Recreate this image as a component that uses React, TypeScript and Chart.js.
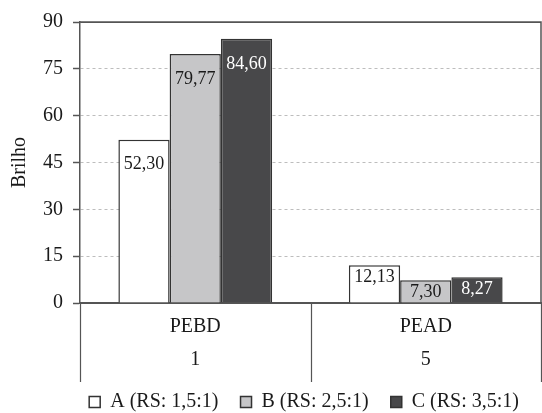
import React, { useEffect, useRef } from "react";
import { Chart, registerables } from "chart.js";

Chart.register(...registerables);

const categories: string[][] = [["PEBD", "1"], ["PEAD", "5"]];
const seriesNames = ["A (RS: 1,5:1)", "B (RS: 2,5:1)", "C (RS: 3,5:1)"];
const seriesA = [52.3, 12.13];
const seriesB = [79.77, 7.3];
const seriesC = [84.6, 8.27];
const yTicks = { min: 0, max: 90, step: 15 };

const FONT = "'Liberation Serif', 'Times New Roman', serif";
const TEXT = "#1a1a1a";
const LINE = "#555555";
const SEPARATOR_LENGTH = 79;
const X_AXIS_HEIGHT = 67;

const frameAndLabels = {
  id: "frameAndLabels",
  afterDraw(chart: any) {
    const { ctx, chartArea } = chart;
    const xs = chart.scales.x;
    ctx.save();
    ctx.strokeStyle = LINE;
    ctx.lineWidth = 1.5;
    // top and right border of plot area
    ctx.beginPath();
    ctx.moveTo(chartArea.left, chartArea.top);
    ctx.lineTo(chartArea.right, chartArea.top);
    ctx.lineTo(chartArea.right, chartArea.bottom);
    ctx.stroke();
    // category separators below the axis
    const n = xs.ticks.length;
    const w = (xs.right - xs.left) / n;
    ctx.lineWidth = 1.2;
    ctx.beginPath();
    for (let i = 0; i <= n; i++) {
      const x = Math.round(xs.left + i * w) + 0.5;
      ctx.moveTo(x, chartArea.bottom);
      ctx.lineTo(x, chartArea.bottom + SEPARATOR_LENGTH);
    }
    ctx.stroke();
    ctx.restore();
  },
  afterDatasetsDraw(chart: any) {
    const { ctx } = chart;
    ctx.save();
    ctx.font = `18px ${FONT}`;
    ctx.textAlign = "center";
    ctx.textBaseline = "middle";
    chart.data.datasets.forEach((ds: any, di: number) => {
      const meta = chart.getDatasetMeta(di);
      meta.data.forEach((el: any, i: number) => {
        const v = ds.data[i] as number;
        const h = el.base - el.y;
        const y = h > 60 ? el.y + 25 : el.y + 12.5;
        ctx.fillStyle = di === 2 ? "#ffffff" : TEXT;
        ctx.fillText(v.toFixed(2).replace(".", ","), el.x, y);
      });
    });
    ctx.restore();
  },
};

export default function App() {
  const ref = useRef<HTMLCanvasElement | null>(null);
  useEffect(() => {
    if (!ref.current) return;
    const isEdge = (c: any) =>
      c.tick && (c.tick.value === yTicks.min || c.tick.value === yTicks.max);
    const chart = new Chart(ref.current, {
      type: "bar",
      data: {
        labels: categories,
        datasets: [
          { label: seriesNames[0], data: seriesA, backgroundColor: "#ffffff", borderColor: "#333333", borderWidth: 1.5 },
          { label: seriesNames[1], data: seriesB, backgroundColor: "#c6c6c8", borderColor: "#333333", borderWidth: 1.5 },
          { label: seriesNames[2], data: seriesC, backgroundColor: "#48484a", borderColor: "#333333", borderWidth: 1.5 },
        ],
      },
      options: {
        responsive: false,
        animation: false,
        devicePixelRatio: 1,
        layout: { padding: { left: 2, right: 1, top: 21, bottom: -9 } },
        datasets: { bar: { categoryPercentage: 0.667, barPercentage: 1 } },
        plugins: {
          tooltip: { enabled: false },
          legend: {
            position: "bottom",
            align: "end",
            labels: {
              boxWidth: 11,
              boxHeight: 11,
              padding: 22,
              color: TEXT,
              font: { family: FONT, size: 20 },
            },
          },
        },
        scales: {
          x: {
            offset: true,
            grid: { display: false, drawTicks: false },
            border: { display: true, color: LINE, width: 1.5 },
            ticks: {
              color: TEXT,
              padding: 7.5,
              font: { family: FONT, size: 20, lineHeight: 1.65 },
            },
            afterFit: (scale: any) => {
              scale.height = X_AXIS_HEIGHT;
            },
          },
          y: {
            min: yTicks.min,
            max: yTicks.max,
            ticks: {
              stepSize: yTicks.step,
              color: TEXT,
              padding: 10,
              font: { family: FONT, size: 20 },
            },
            grid: {
              color: (c: any) => (isEdge(c) ? LINE : "#bdbdbd"),
              lineWidth: 1,
              tickLength: 7,
              tickColor: LINE,
              tickWidth: 1.5,
            },
            border: {
              display: true,
              color: LINE,
              width: 1.5,
              dash: (c: any) => (c.tick && !isEdge(c) ? [3, 3] : []),
            },
            title: {
              display: true,
              text: "Brilho",
              color: TEXT,
              font: { family: FONT, size: 20 },
              padding: { top: 6, bottom: 1 },
            },
          },
        },
      },
      plugins: [frameAndLabels],
    });
    return () => chart.destroy();
  }, []);
  return (
    <div style={{ position: "fixed", left: 0, top: 0, width: 542, height: 413, background: "#ffffff" }}>
      <canvas ref={ref} width={542} height={413} style={{ display: "block", width: 542, height: 413 }} />
    </div>
  );
}
